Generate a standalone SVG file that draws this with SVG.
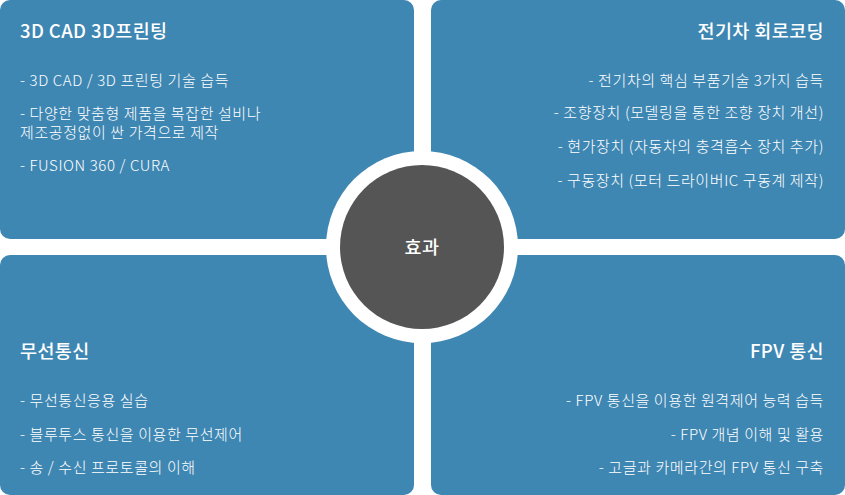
<svg xmlns="http://www.w3.org/2000/svg" width="845" height="495" viewBox="0 0 845 495">
<style>
.p{fill:#3f87b3}
.t{font-family:"Noto Sans CJK KR","Noto Sans",sans-serif;fill:#fff;font-size:18.5px;font-weight:500;letter-spacing:0.4px}
.i{font-family:"Noto Sans CJK KR","Noto Sans",sans-serif;fill:#fff;font-size:15px;font-weight:300;letter-spacing:0.6px}
.r{text-anchor:end}
</style>
<rect width="845" height="495" fill="#fff"/>
<g id="tl"><rect class="p" x="0" y="0" width="414" height="239" rx="10"/>
<text class="t" x="20" y="38">3D CAD 3D프린팅</text>
<text class="i" x="20" y="86">- 3D CAD / 3D 프린팅 기술 습득</text>
<text class="i" x="20" y="119">- 다양한 맞춤형 제품을 복잡한 설비나</text>
<text class="i" x="20" y="138">제조공정없이 싼 가격으로 제작</text>
<text class="i" x="20" y="171">- FUSION 360 / CURA</text></g>
<g id="tr"><rect class="p" x="431" y="0" width="414" height="239" rx="10"/>
<text class="t r" x="824" y="38">전기차 회로코딩</text>
<text class="i r" x="824" y="86">- 전기차의 핵심 부품기술 3가지 습득</text>
<text class="i r" x="824" y="118">- 조향장치 (모델링을 통한 조향 장치 개선)</text>
<text class="i r" x="824" y="152">- 현가장치 (자동차의 충격흡수 장치 추가)</text>
<text class="i r" x="824" y="186">- 구동장치 (모터 드라이버IC 구동계 제작)</text></g>
<g id="bl"><rect class="p" x="0" y="255" width="414" height="240" rx="10"/>
<text class="t" x="20" y="358">무선통신</text>
<text class="i" x="20" y="406">- 무선통신응용 실습</text>
<text class="i" x="20" y="440">- 블루투스 통신을 이용한 무선제어</text>
<text class="i" x="20" y="473">- 송 / 수신 프로토콜의 이해</text></g>
<g id="br"><rect class="p" x="431" y="255" width="414" height="240" rx="10"/>
<text class="t r" x="824" y="358">FPV 통신</text>
<text class="i r" x="824" y="406">- FPV 통신을 이용한 원격제어 능력 습득</text>
<text class="i r" x="824" y="440">- FPV 개념 이해 및 활용</text>
<text class="i r" x="824" y="473">- 고글과 카메라간의 FPV 통신 구축</text></g>
<g id="center"><circle cx="422" cy="247" r="96" fill="#fff"/><circle cx="422" cy="247" r="82" fill="#555"/>
<text class="t" x="422" y="254" text-anchor="middle">효과</text></g>
</svg>
